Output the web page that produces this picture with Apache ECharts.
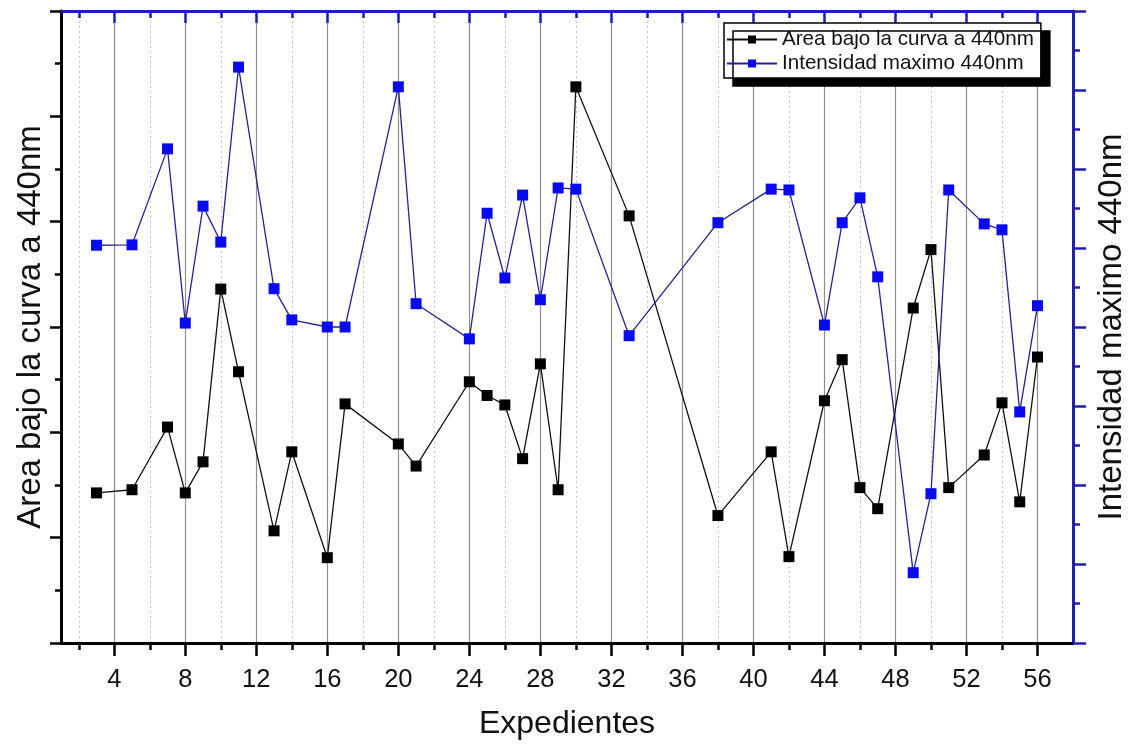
<!DOCTYPE html>
<html>
<head>
<meta charset="utf-8">
<script src="https://cdn.jsdelivr.net/npm/echarts@6/dist/echarts.min.js"></script>
<style>
  html, body { margin: 0; padding: 0; background: #fff; }
  #chart { width: 1131px; height: 749px; }
</style>
</head>
<body>
<div id="chart"></div>
<script>
// Expediente numbers (x) and the two measured quantities
const expedientes = [3, 5, 7, 8, 9, 10, 11, 13, 14, 16, 17, 20, 21, 24, 25, 26, 27, 28, 29, 30,
  33, 38, 41, 42, 44, 45, 46, 47, 49, 50, 51, 53, 54, 55, 56];
const areaBajoCurva = [2.85, 2.91, 4.10, 2.85, 3.44, 6.72, 5.15, 2.13, 3.63, 1.62, 4.54, 3.78, 3.36,
  4.96, 4.70, 4.52, 3.50, 5.30, 2.91, 10.56, 8.11, 2.42, 3.63, 1.64, 4.60, 5.38, 2.95, 2.55,
  6.36, 7.47, 2.95, 3.57, 4.56, 2.68, 5.43];
const intensidadMaxima = [10.07, 10.08, 12.51, 8.10, 11.06, 10.15, 14.58, 8.97, 8.18, 8.00, 8.00,
  14.08, 8.59, 7.70, 10.88, 9.24, 11.34, 8.69, 11.52, 11.49, 7.78, 10.64, 11.49, 11.47, 8.05,
  10.64, 11.27, 9.27, 1.78, 3.78, 11.47, 10.61, 10.46, 5.85, 8.54];

// Axis tick positions on the x axis
const xMajorTicks = [4, 8, 12, 16, 20, 24, 28, 32, 36, 40, 44, 48, 52, 56];
const xMinorTicks = [2, 6, 10, 14, 18, 22, 26, 30, 34, 38, 42, 46, 50, 54];

const nameArea = 'Area bajo la curva a 440nm';
const nameIntensidad = 'Intensidad maximo 440nm';

const FONT = '"Liberation Sans", Arial, sans-serif';
const BLUE_AXIS = '#1f1fb0';
const X_MIN = 1, X_MAX = 58;

const pair = (xs, ys) => xs.map((x, i) => [x, ys[i]]);

const chart = echarts.init(document.getElementById('chart'), null, { renderer: 'canvas' });

const hiddenLabel = { show: false };

chart.setOption({
  animation: false,
  backgroundColor: '#ffffff',
  textStyle: { fontFamily: FONT },
  grid: { left: 61, right: 58, top: 11, bottom: 106, containLabel: false, outerBoundsMode: 'none' },
  legend: {
    left: 724, top: 23,
    orient: 'vertical',
    padding: [6, 7, 4, 2],
    itemGap: 3,
    itemWidth: 50,
    itemHeight: 10,
    backgroundColor: '#ffffff',
    borderColor: '#000000',
    borderWidth: 1.5,
    borderRadius: 0,
    shadowColor: '#000000',
    shadowBlur: 0,
    shadowOffsetX: 9,
    shadowOffsetY: 8,
    textStyle: { fontFamily: FONT, fontSize: 20.6, color: '#111' },
    data: [nameArea, nameIntensidad]
  },
  xAxis: [
    {
      type: 'value', position: 'bottom', min: X_MIN, max: X_MAX,
      name: 'Expedientes', nameLocation: 'middle', nameGap: 65,
      nameTextStyle: { fontFamily: FONT, fontSize: 32, color: '#111' },
      axisLine: { show: true, onZero: false, lineStyle: { color: '#000', width: 3 } },
      axisTick: { show: true, inside: false, length: 13, customValues: xMajorTicks, lineStyle: { color: '#000', width: 2.5 } },
      axisLabel: { show: true, customValues: xMajorTicks, margin: 24, fontFamily: FONT, fontSize: 25.5, color: '#111' },
      splitLine: { show: true, lineStyle: { color: '#8f8f8f', width: 1.2, type: 'solid' } }
    },
    {
      type: 'value', position: 'bottom', min: X_MIN, max: X_MAX,
      axisLine: { show: false, onZero: false },
      axisTick: { show: true, inside: false, length: 7, customValues: xMinorTicks, lineStyle: { color: '#000', width: 2.5 } },
      axisLabel: hiddenLabel,
      splitLine: { show: true, lineStyle: { color: '#c4c4c4', width: 1, type: [2, 3] } }
    },
    {
      type: 'value', position: 'top', min: X_MIN, max: X_MAX,
      axisLine: { show: true, onZero: false, lineStyle: { color: BLUE_AXIS, width: 3 } },
      axisTick: { show: true, inside: true, length: 12, customValues: xMajorTicks, lineStyle: { color: BLUE_AXIS, width: 2.5 } },
      axisLabel: hiddenLabel,
      splitLine: { show: false }
    },
    {
      type: 'value', position: 'top', min: X_MIN, max: X_MAX,
      axisLine: { show: false, onZero: false },
      axisTick: { show: true, inside: true, length: 7, customValues: xMinorTicks, lineStyle: { color: BLUE_AXIS, width: 2.5 } },
      axisLabel: hiddenLabel,
      splitLine: { show: false }
    }
  ],
  yAxis: [
    {
      type: 'value', position: 'left', min: 0, max: 12, interval: 2,
      name: nameArea, nameLocation: 'middle', nameGap: 14,
      nameTextStyle: { fontFamily: FONT, fontSize: 33, color: '#111' },
      axisLine: { show: true, onZero: false, lineStyle: { color: '#000', width: 3 } },
      axisTick: { show: true, inside: false, length: 11, lineStyle: { color: '#000', width: 2.5 } },
      axisLabel: hiddenLabel,
      splitLine: { show: false }
    },
    {
      type: 'value', position: 'left', min: 0, max: 12, interval: 1,
      axisLine: { show: false, onZero: false },
      axisTick: { show: true, inside: false, length: 6, lineStyle: { color: '#000', width: 2.5 } },
      axisLabel: hiddenLabel,
      splitLine: { show: false }
    },
    {
      type: 'value', position: 'right', min: 0, max: 16, interval: 2,
      name: nameIntensidad, nameLocation: 'middle', nameGap: 22,
      nameTextStyle: { fontFamily: FONT, fontSize: 33, color: '#111' },
      axisLine: { show: true, onZero: false, lineStyle: { color: BLUE_AXIS, width: 3 } },
      axisTick: { show: true, inside: false, length: 13, lineStyle: { color: BLUE_AXIS, width: 2.5 } },
      axisLabel: hiddenLabel,
      splitLine: { show: false }
    },
    {
      type: 'value', position: 'right', min: 0, max: 16, interval: 1,
      axisLine: { show: false, onZero: false },
      axisTick: { show: true, inside: false, length: 7, lineStyle: { color: BLUE_AXIS, width: 2.5 } },
      axisLabel: hiddenLabel,
      splitLine: { show: false }
    }
  ],
  series: [
    {
      name: nameArea,
      type: 'line',
      xAxisIndex: 0, yAxisIndex: 0,
      data: pair(expedientes, areaBajoCurva),
      symbol: 'rect', symbolSize: 11,
      itemStyle: { color: '#000000' },
      lineStyle: { color: '#111111', width: 1.3 },
      z: 3
    },
    {
      name: nameIntensidad,
      type: 'line',
      xAxisIndex: 0, yAxisIndex: 2,
      data: pair(expedientes, intensidadMaxima),
      symbol: 'rect', symbolSize: 11,
      itemStyle: { color: '#0a0af0' },
      lineStyle: { color: '#24248c', width: 1.3 },
      z: 4
    }
  ]
});
</script>
</body>
</html>
